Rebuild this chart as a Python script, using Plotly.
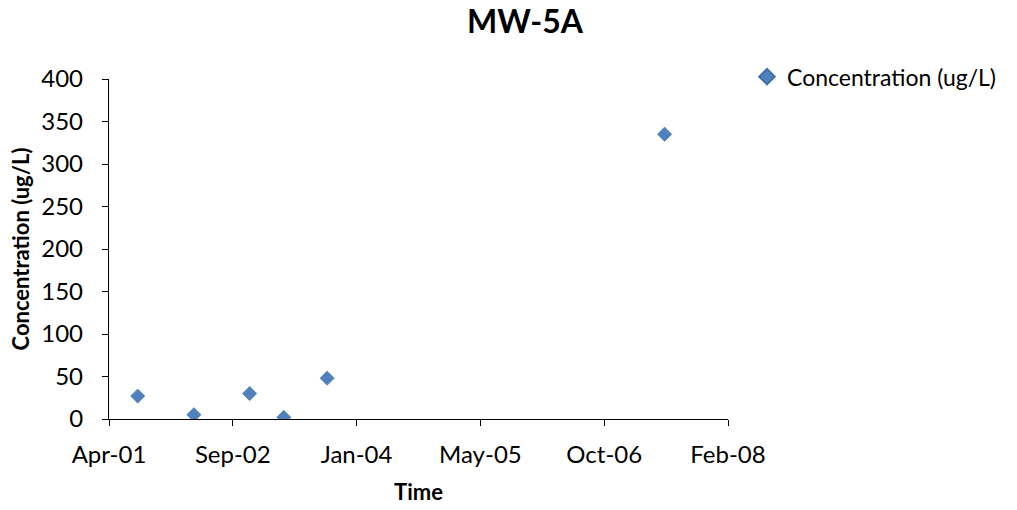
import plotly.graph_objects as go

# Sample dates and measured concentrations for well MW-5A
sample_dates = ["2001-08-13", "2002-03-28", "2002-11-08", "2003-03-26", "2003-09-17", "2007-06-11"]
concentration = [27, 5, 30, 2, 48, 335]

# Date-axis tick positions (500-day steps) and value-axis ticks
x_ticks = ["2001-04-19", "2002-09-01", "2004-01-14", "2005-05-28", "2006-10-10", "2008-02-22"]
y_ticks = [0, 50, 100, 150, 200, 250, 300, 350, 400]

FONT = "Lato, Carlito, Calibri, sans-serif"
BLUE = "#4F81BD"
TICK_SIZE = 24

# Plot area spans x 109..728 px, y 79..419 px
W, H = 1017, 510
L, R, T, B = 109, 289, 79, 91
area_w = W - L - R

fig = go.Figure()
fig.add_trace(go.Scatter(
    x=sample_dates,
    y=concentration,
    mode="markers",
    name="Concentration (ug/L)",
    marker=dict(symbol="diamond", size=11, color=BLUE, line=dict(width=0.5, color="#3d6fa8")),
))

fig.update_layout(
    width=W,
    height=H,
    paper_bgcolor="white",
    plot_bgcolor="white",
    margin=dict(l=L, r=R, t=T, b=B),
    font=dict(family=FONT, size=TICK_SIZE, color="black"),
    title=dict(
        text="<b>MW-5A</b>",
        x=525 / W, xanchor="center",
        y=1 - 22 / H, yanchor="middle",
        font=dict(family=FONT, size=32, color="black"),
    ),
    showlegend=True,
    legend=dict(
        x=(747 - L) / area_w, xanchor="left",
        y=1.07, yanchor="top",
        font=dict(family=FONT, size=23, color="black"),
        bgcolor="rgba(0,0,0,0)",
        itemsizing="constant",
    ),
)

fig.update_xaxes(
    type="date",
    automargin=False,
    range=[x_ticks[0], x_ticks[-1]],
    tickvals=x_ticks,
    tickformat="%b-%y",
    ticks="outside", ticklen=6, tickcolor="black", tickwidth=1,
    ticklabelstandoff=8,
    showline=True, linecolor="black", linewidth=1.3,
    showgrid=False, zeroline=False,
    tickfont=dict(family=FONT, size=TICK_SIZE),
    title=dict(text="<b>Time</b>", font=dict(family=FONT, size=22), standoff=17),
)

fig.update_yaxes(
    range=[0, 400],
    automargin=False,
    tickvals=y_ticks,
    ticks="outside", ticklen=6, tickcolor="black", tickwidth=1,
    ticklabelstandoff=14,
    showline=True, linecolor="black", linewidth=1.3,
    showgrid=False, zeroline=False,
    tickfont=dict(family=FONT, size=TICK_SIZE),
    title=dict(text="<b>Concentration (ug/L)</b>", font=dict(family=FONT, size=22), standoff=5),
)

fig.write_html("out.html")
